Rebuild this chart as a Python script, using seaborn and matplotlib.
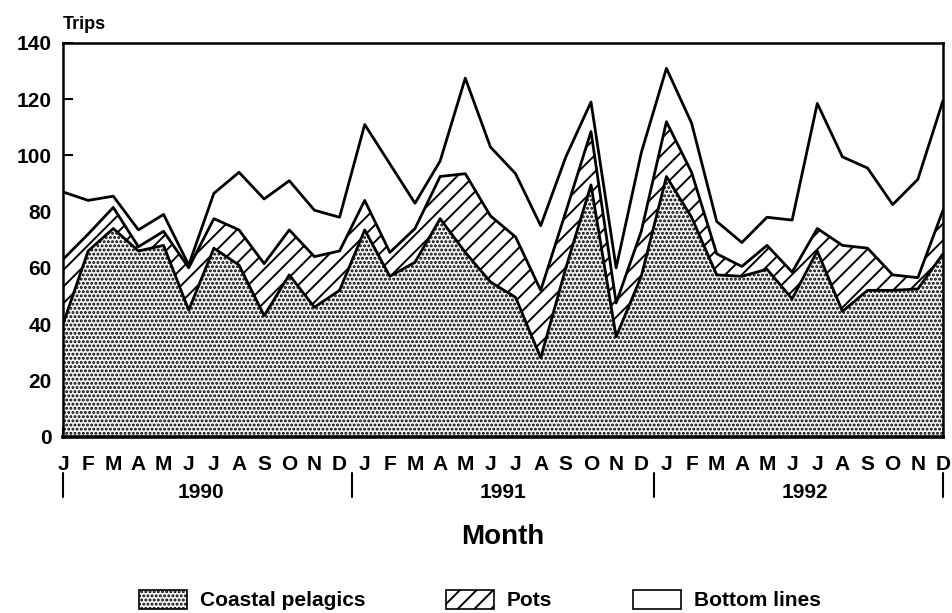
import matplotlib
matplotlib.use("Agg")
import matplotlib.pyplot as plt
from matplotlib.patches import Patch
import numpy as np
import pandas as pd
import seaborn as sns

# monthly trips by gear, Jan 1990 - Dec 1992
month_letters = ["J", "F", "M", "A", "M", "J", "J", "A", "S", "O", "N", "D"]
years = ["1990", "1991", "1992"]

coastal_pelagics = [40, 66, 74, 66, 68, 45, 67, 61, 43, 57.5, 46, 52,
                    73.5, 57, 62, 77.5, 65.5, 55, 49.5, 28, 60, 89.5, 35.5, 57,
                    92.5, 78, 57.5, 57, 59.5, 49, 66, 44.5, 52, 52, 52.5, 65]
pots = [23, 6, 7.5, 1.5, 5, 15, 10.5, 12.5, 18.5, 16, 18, 14,
        10.5, 8.5, 12, 15, 28, 23.5, 21.5, 24, 20, 19, 12, 16,
        19.5, 16, 7.5, 3.5, 8.5, 9.5, 8, 23.5, 15, 5.5, 4, 15.5]
bottom_lines = [24, 12, 4, 6, 6, 1, 9, 20.5, 23, 17.5, 16.5, 12,
                27, 31.5, 9, 5.5, 34, 24.5, 22.5, 23, 19.5, 10.5, 12.5, 28,
                19, 17.5, 11.5, 8.5, 10, 18.5, 44.5, 31.5, 28.5, 25, 35, 39]

sns.set_style("ticks")
plt.rcParams["font.family"] = ["Liberation Sans", "DejaVu Sans"]
plt.rcParams["text.color"] = "black"
plt.rcParams["axes.labelcolor"] = "black"
plt.rcParams["xtick.color"] = "black"
plt.rcParams["ytick.color"] = "black"
plt.rcParams["hatch.linewidth"] = 1.4
plt.rcParams["hatch.color"] = "black"

df = pd.DataFrame({
    "month": np.arange(len(coastal_pelagics)),
    "coastal": coastal_pelagics,
    "pots": pots,
    "bottom": bottom_lines,
})
df["lvl1"] = df["coastal"]
df["lvl2"] = df["lvl1"] + df["pots"]
df["lvl3"] = df["lvl2"] + df["bottom"]

fig = plt.figure(figsize=(9.53, 6.13), dpi=100)
ax = fig.add_axes([63 / 953, 1 - 436.5 / 613, 880 / 953, 393.5 / 613])

dot_face = "#f2f2f2"
dot_hatch = "...."
ax.fill_between(df["month"], 0, df["lvl1"], facecolor=dot_face, edgecolor="black",
                hatch=dot_hatch, linewidth=0)
ax.fill_between(df["month"], df["lvl1"], df["lvl2"], facecolor="white", edgecolor="black",
                hatch="//", linewidth=0)
ax.fill_between(df["month"], df["lvl2"], df["lvl3"], facecolor="white", linewidth=0)
for col in ["lvl1", "lvl2", "lvl3"]:
    sns.lineplot(data=df, x="month", y=col, ax=ax, color="black", linewidth=2)

ax.set_xlim(0, 35)
ax.set_ylim(0, 140)
ax.set_yticks(range(0, 141, 20))
ax.set_xticks(df["month"])
ax.set_xticklabels(month_letters * 3)
ax.set_xlabel("")
ax.set_ylabel("")
for s in ax.spines.values():
    s.set_linewidth(1.8)
    s.set_color("black")
ax.spines["bottom"].set_linewidth(2.6)
ax.tick_params(axis="both", direction="in", length=7, width=1.5, colors="black")
ax.tick_params(axis="x", pad=13, labelsize=15)
ax.tick_params(axis="y", pad=8, labelsize=15)
for lab in ax.get_xticklabels() + ax.get_yticklabels():
    lab.set_fontweight("bold")

# year separators and labels
tr = ax.get_xaxis_transform()
for xs in [0, 11.5, 23.5, 35]:
    ax.plot([xs, xs], [-0.093, -0.154], color="black", lw=1.5, transform=tr, clip_on=False)
for i, yr in enumerate(years):
    ax.text(5.5 + 12 * i, -0.142, yr, transform=tr, ha="center", va="center",
            fontsize=15, fontweight="bold")

ax.text(0.5, -0.255, "Month", transform=ax.transAxes, ha="center", va="center",
        fontsize=20, fontweight="bold")
ax.text(0.0, 1.046, "Trips", transform=ax.transAxes, ha="left", va="center",
        fontsize=13, fontweight="bold")

handles = [
    Patch(facecolor=dot_face, edgecolor="black", hatch=dot_hatch, linewidth=1.2, label="Coastal pelagics"),
    Patch(facecolor="white", edgecolor="black", hatch="//", linewidth=1.2, label="Pots"),
    Patch(facecolor="white", edgecolor="black", linewidth=1.2, label="Bottom lines"),
]
leg = fig.legend(handles=handles, loc="center", bbox_to_anchor=(480 / 953, 1 - 600 / 613),
                 ncol=3, frameon=False, handlelength=2.3, handleheight=1.05,
                 handletextpad=0.6, columnspacing=3.9,
                 prop={"weight": "bold", "size": 15})

fig.savefig("out.png", dpi=100)
